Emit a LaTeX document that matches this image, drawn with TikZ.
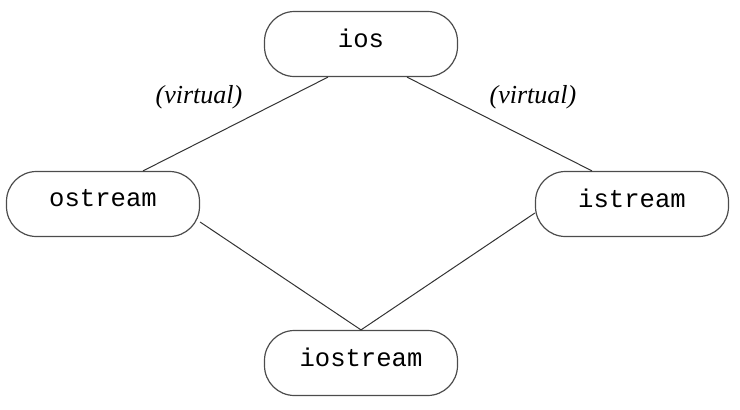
\documentclass[tikz,border=0pt]{standalone}
\usepackage{fontspec}
\setmainfont{Liberation Serif}
\setmonofont{Liberation Mono}
\usepackage{tikz}
\usetikzlibrary{positioning}

\begin{document}
\begin{tikzpicture}[
  x=0.5pt, y=-0.5pt,
  box/.style={rectangle, draw=black!70, line width=0.6pt, rounded corners=15pt,
              minimum width=96.5pt, minimum height=32.5pt, inner sep=0pt,
              text depth=6pt, font=\fontsize{12.8}{14}\ttfamily},
  link/.style={draw=black!80, line width=0.5pt},
  note/.style={font=\fontsize{13}{15}\itshape},
]
\useasboundingbox (0,0) rectangle (740,409);

\node[box] (ios)      at (361,44)  {ios};
\node[box] (ostream)  at (103,204) {ostream};
\node[box] (istream)  at (632,204) {istream};
\node[box] (iostream) at (361,363) {iostream};

\node[note] (virtL) at (199,97) {(virtual)};
\node[note] (virtR) at (533,97) {(virtual)};

\draw[link] ([xshift=-16.5pt]ios.south) -- ([xshift=20pt]ostream.north);
\draw[link] ([xshift=23pt]ios.south) -- ([xshift=-20pt]istream.north);
\draw[link] ([yshift=-9pt]ostream.east) -- (iostream.north);
\draw[link] ([yshift=-4.5pt]istream.west) -- (iostream.north);
\end{tikzpicture}
\end{document}
